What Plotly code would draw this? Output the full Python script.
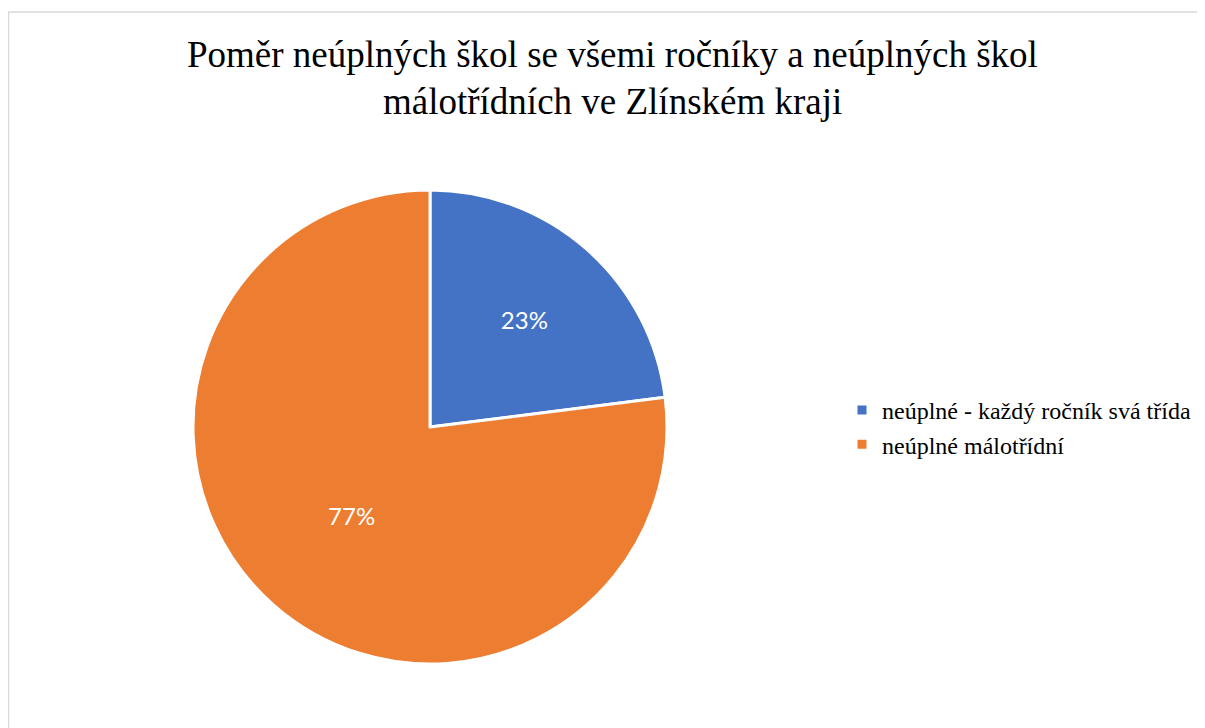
import plotly.graph_objects as go

kategorie = ["neúplné - každý ročník svá třída", "neúplné málotřídní"]
hodnoty = [23, 77]
barvy = ["#4472C4", "#ED7D31"]

# stránka má okraj 8 px, proto vše posunuto
W, H = 1197, 720
off = 8
cx, cy, r = 430 - off, 427 - off, 237

fig = go.Figure(
    go.Pie(
        labels=kategorie,
        values=hodnoty,
        sort=False,
        direction="clockwise",
        rotation=0,
        marker=dict(colors=barvy, line=dict(color="white", width=3)),
        textinfo="percent",
        texttemplate="%{percent:.0%}",
        textposition="inside",
        insidetextorientation="horizontal",
        textfont=dict(family="Lato", size=24, color="white"),
        domain=dict(x=[(cx - r) / W, (cx + r) / W], y=[(H - cy - r) / H, (H - cy + r) / H]),
        hoverinfo="label+percent",
    )
)

fig.add_annotation(
    text="Poměr neúplných škol se všemi ročníky a neúplných škol",
    x=(612 - off) / W, y=1 - (54 - off) / H, xref="paper", yref="paper", showarrow=False,
    font=dict(family="Liberation Serif", size=37, color="black"), xanchor="center", yanchor="middle",
)
fig.add_annotation(
    text="málotřídních ve Zlínském kraji",
    x=(612 - off) / W, y=1 - (102 - off) / H, xref="paper", yref="paper", showarrow=False,
    font=dict(family="Liberation Serif", size=37, color="black"), xanchor="center", yanchor="middle",
)

fig.add_shape(
    type="rect", xref="paper", yref="paper",
    x0=0.5 / W, x1=(1203 - off) / W, y0=-0.01, y1=1 - (12 - off) / H,
    line=dict(color="#D9D9D9", width=1.5),
)

fig.update_layout(
    width=W, height=H,
    margin=dict(l=0, r=0, t=0, b=0),
    paper_bgcolor="white",
    plot_bgcolor="white",
    showlegend=True,
    legend=dict(
        x=(842 - off) / W, y=1 - (388 - off) / H, xanchor="left", yanchor="top",
        font=dict(family="Liberation Serif", size=24, color="black"),
        bgcolor="rgba(0,0,0,0)",
        itemwidth=30,
    ),
)

fig.write_html("out.html")
